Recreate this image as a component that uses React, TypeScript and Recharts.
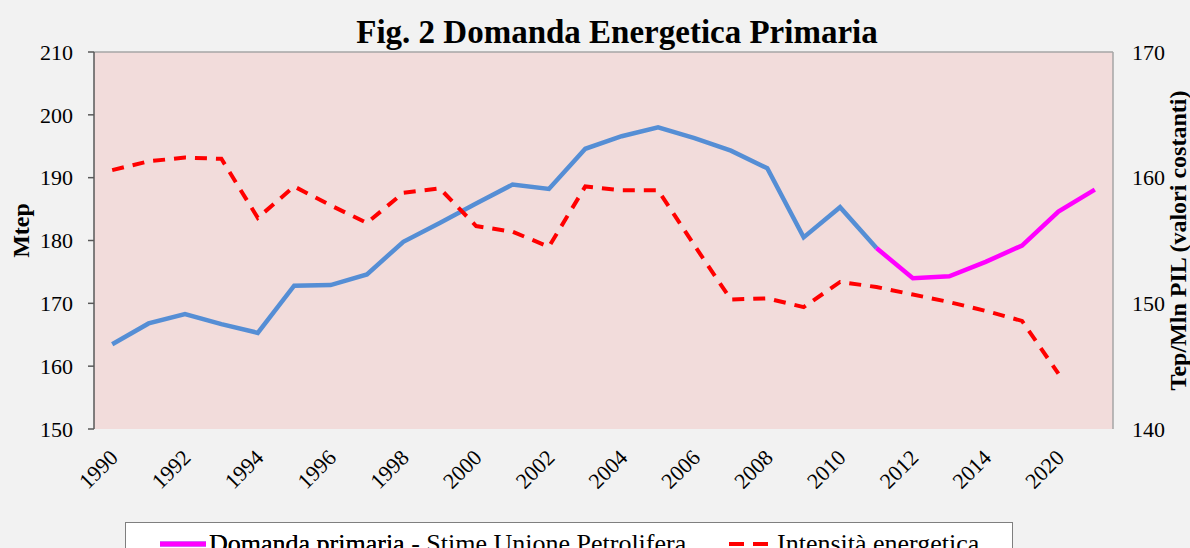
import React from 'react';
import {
  ComposedChart,
  Line,
  XAxis,
  YAxis,
  CartesianGrid,
  Legend,
  ReferenceLine,
} from 'recharts';

// ---- data ----
const years = [
  '1990', '1991', '1992', '1993', '1994', '1995', '1996', '1997', '1998', '1999',
  '2000', '2001', '2002', '2003', '2004', '2005', '2006', '2007', '2008', '2009',
  '2010', '2011', '2012', '2013', '2014', '2015', '2020', '2025',
];

// Domanda primaria (storico), Mtep
const domandaStorico: (number | null)[] = [
  163.5, 166.8, 168.3, 166.7, 165.3, 172.8, 172.9, 174.6, 179.8, 182.8,
  185.9, 188.9, 188.2, 194.6, 196.6, 198.0, 196.3, 194.3, 191.5, 180.5,
  185.3, 178.8, null, null, null, null, null, null,
];

// Domanda primaria - Stime Unione Petrolifera, Mtep
const domandaStime: (number | null)[] = [
  null, null, null, null, null, null, null, null, null, null,
  null, null, null, null, null, null, null, null, null, null,
  null, 178.8, 174.0, 174.3, 176.6, 179.2, 184.6, 188.1,
];

// Intensità energetica, Tep/Mln PIL
const intensita: (number | null)[] = [
  160.6, 161.3, 161.6, 161.5, 156.8, 159.3, 157.8, 156.4, 158.8, 159.15,
  156.15, 155.7, 154.5, 159.3, 159.0, 159.0, 154.6, 150.3, 150.4, 149.7,
  151.7, 151.3, 150.7, 150.1, 149.4, 148.6, 144.4, null,
];

const leftTicks = [150, 160, 170, 180, 190, 200, 210];
const rightTicks = [140, 150, 160, 170];
const boundaryTicks = [
  0, 1, 2, 3, 4, 5, 6, 7, 8, 9, 10, 11, 12, 13, 14, 15, 16, 17, 18, 19,
  20, 21, 22, 23, 24, 25, 26, 27, 28,
];

const data = years.map((year, i) => ({
  year,
  storico: domandaStorico[i],
  stime: domandaStime[i],
  intensita: intensita[i],
}));

const FONT = '"Liberation Serif", "Times New Roman", Times, serif';
const BLUE = '#558ED5';
const MAGENTA = '#FF00FF';
const RED = '#FF0000';

const XTick = (props: any) => {
  const { x, y, payload } = props;
  const bx = x + 7;
  const by = y;
  return (
    <text
      x={bx}
      y={by}
      transform={`rotate(-45 ${bx} ${by})`}
      textAnchor="end"
      fontFamily={FONT}
      fontSize={22}
      fill="#000"
    >
      {payload.value}
    </text>
  );
};

const LegendContent = (props: any) => {
  const payload = (props.payload || []) as any[];
  return (
    <div
      style={{
        position: 'relative',
        width: 888,
        height: 40,
        background: '#FFFFFF',
        border: '1px solid #7F7F7F',
        boxSizing: 'border-box',
        fontFamily: FONT,
        fontSize: 26,
        color: '#000',
      }}
    >
      {payload.map((entry: any, i: number) => {
        const dashed = entry.dataKey === 'intensita';
        const left = dashed ? 603 : 34;
        const lineW = dashed ? 39 : 46;
        return (
          <div
            key={i}
            style={{
              position: 'absolute',
              left,
              top: 6,
              display: 'flex',
              alignItems: 'center',
              whiteSpace: 'nowrap',
              lineHeight: '30px',
            }}
          >
            <svg width={lineW} height={10} style={{ marginRight: dashed ? 9 : 3 }}>
              <line
                x1={0}
                y1={5}
                x2={lineW}
                y2={5}
                stroke={entry.color}
                strokeWidth={dashed ? 4 : 5}
                strokeDasharray={dashed ? '15 9' : undefined}
                strokeLinecap={dashed ? 'butt' : 'round'}
              />
            </svg>
            <span>{entry.value}</span>
          </div>
        );
      })}
    </div>
  );
};

export default function App() {
  return (
    <div
      style={{
        position: 'absolute',
        left: 0,
        top: 0,
        width: 1190,
        height: 548,
        background: '#F2F2F2',
        overflow: 'hidden',
      }}
    >
      <div
        style={{
          position: 'absolute',
          left: 617,
          top: 16,
          transform: 'translateX(-50%)',
          whiteSpace: 'nowrap',
          fontFamily: FONT,
          fontWeight: 'bold',
          fontSize: 33,
          lineHeight: '33px',
          color: '#000',
          zIndex: 2,
        }}
      >
        Fig. 2 Domanda Energetica Primaria
      </div>
      <ComposedChart
        width={1190}
        height={548}
        data={data}
        margin={{ top: 52, right: 0, bottom: 0, left: 0 }}
      >
        <CartesianGrid fill="#F2DCDB" horizontal={false} vertical={false} yAxisId="l" xAxisId="cat" />
        <XAxis
          xAxisId="num"
          type="number"
          domain={[0, 28]}
          ticks={boundaryTicks}
          allowDataOverflow
          height={0}
          tick={false}
          tickSize={6}
          axisLine={{ stroke: '#404040', strokeWidth: 1.5 }}
          tickLine={{ stroke: '#404040', strokeWidth: 1.5 }}
        />
        <XAxis
          xAxisId="cat"
          dataKey="year"
          type="category"
          scale="band"
          interval={1}
          height={119}
          axisLine={false}
          tickLine={false}
          tickSize={0}
          tickMargin={30}
          tick={<XTick />}
        />
        <YAxis
          yAxisId="l"
          orientation="left"
          width={94}
          domain={[150, 210]}
          ticks={leftTicks}
          allowDataOverflow
          tickSize={6}
          tickMargin={15}
          axisLine={{ stroke: '#595959', strokeWidth: 1.5 }}
          tickLine={{ stroke: '#595959', strokeWidth: 1.5 }}
          tick={{ fontFamily: FONT, fontSize: 22, fill: '#000' }}
          label={{
            content: (p: any) => {
              const vb = p.viewBox || {};
              const cx = 29;
              const cy = (vb.y ?? 52) + (vb.height ?? 377) / 2 - 10;
              return (
                <text
                  x={cx}
                  y={cy}
                  transform={`rotate(-90 ${cx} ${cy})`}
                  textAnchor="middle"
                  fontFamily={FONT}
                  fontWeight="bold"
                  fontSize={24}
                  fill="#000"
                >
                  Mtep
                </text>
              );
            },
          }}
        />
        <YAxis
          yAxisId="r"
          orientation="right"
          width={77}
          domain={[140, 170]}
          ticks={rightTicks}
          allowDataOverflow
          tickSize={0}
          tickMargin={19}
          tickLine={false}
          axisLine={{ stroke: '#A6A6A6', strokeWidth: 1.5 }}
          tick={{ fontFamily: FONT, fontSize: 22, fill: '#000' }}
          label={{
            content: (p: any) => {
              const vb = p.viewBox || {};
              const cx = 1186;
              const cy = (vb.y ?? 52) + (vb.height ?? 377) / 2;
              return (
                <text
                  x={cx}
                  y={cy}
                  transform={`rotate(-90 ${cx} ${cy})`}
                  textAnchor="middle"
                  fontFamily={FONT}
                  fontWeight="bold"
                  fontSize={24}
                  fill="#000"
                >
                  Tep/Mln PIL (valori costanti)
                </text>
              );
            },
          }}
        />
        <ReferenceLine yAxisId="l" xAxisId="num" y={210} stroke="#A6A6A6" strokeWidth={1.5} />
        <Line
          xAxisId="cat"
          yAxisId="l"
          dataKey="storico"
          name="Domanda primaria"
          stroke={BLUE}
          strokeWidth={4.5}
          dot={false}
          activeDot={false}
          legendType="none"
          connectNulls={false}
          isAnimationActive={false}
        />
        <Line
          xAxisId="cat"
          yAxisId="l"
          dataKey="stime"
          name="Domanda primaria - Stime Unione Petrolifera"
          stroke={MAGENTA}
          strokeWidth={4.5}
          dot={false}
          activeDot={false}
          isAnimationActive={false}
        />
        <Line
          xAxisId="cat"
          yAxisId="r"
          dataKey="intensita"
          name="Intensità energetica"
          stroke={RED}
          strokeWidth={4}
          strokeDasharray="12 9"
          dot={false}
          activeDot={false}
          isAnimationActive={false}
        />
        <Legend
          layout="horizontal"
          verticalAlign="middle"
          align="center"
          wrapperStyle={{ left: 125, top: 522, width: 888, height: 40 }}
          content={<LegendContent />}
        />
      </ComposedChart>
    </div>
  );
}
